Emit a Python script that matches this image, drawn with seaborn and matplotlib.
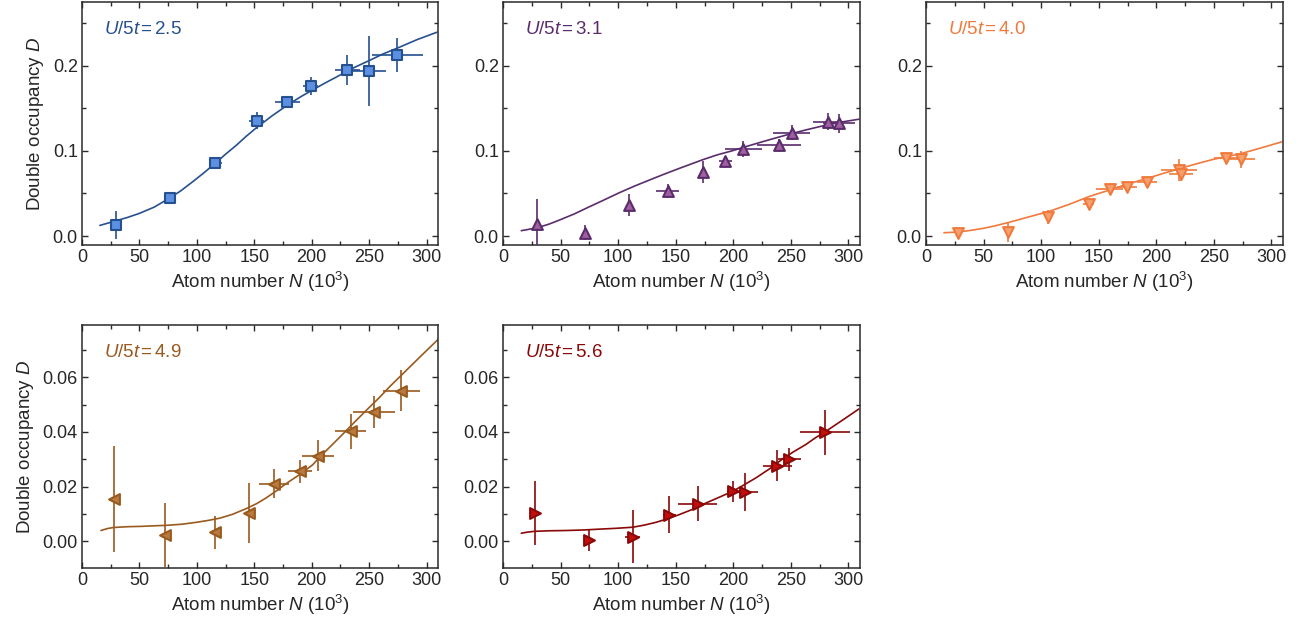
import numpy as np
import pandas as pd
import seaborn as sns
import matplotlib
matplotlib.use("Agg")
import matplotlib.pyplot as plt
from matplotlib.ticker import MultipleLocator, FormatStrFormatter

# ---------------- data ----------------
labels = ["2.5", "3.1", "4.0", "4.9", "5.6"]

# U/5t = 2.5
n1 = [30, 76.3, 116.1, 152.2, 178.8, 199, 231.1, 249.6, 274.7]
d1 = [0.013, 0.045, 0.0853, 0.1353, 0.157, 0.176, 0.1948, 0.1933, 0.212]
nerr1 = [0, 0, 5.5, 6.5, 11, 6.7, 11, 14.7, 22]
derr1 = [0.0167, 0.007, 0.004, 0.01, 0.0035, 0.011, 0.018, 0.041, 0.02]
fn1 = [15.6, 30, 40, 50, 63, 76.3, 86, 96.5, 106, 116, 125, 134, 143, 151.4, 165,
       178.8, 190, 199, 211, 223.6, 236, 249.6, 262, 275.6, 292, 309]
fd1 = [0.0125, 0.018, 0.022, 0.0266, 0.034, 0.0446, 0.053, 0.0638, 0.074, 0.0853,
       0.096, 0.106, 0.117, 0.1265, 0.1405, 0.1535, 0.163, 0.170, 0.179, 0.188,
       0.197, 0.2055, 0.2135, 0.221, 0.2305, 0.239]

# U/5t = 3.1
n2 = [29.8, 71.6, 109.2, 143, 173.9, 193, 208.5, 239.7, 250.7, 282, 291.7]
d2 = [0.014, 0.0039, 0.0363, 0.053, 0.0754, 0.088, 0.102, 0.1066, 0.121, 0.134, 0.132]
nerr2 = [0, 0, 0, 10, 0, 5.5, 16, 19, 16, 13, 13.6]
derr2 = [0.030, 0.0086, 0.0125, 0.008, 0.013, 0.006, 0.0094, 0.007, 0.0088, 0.010, 0.0107]
fn2 = [15.9, 22, 29.8, 40, 49.1, 62, 75.1, 88, 101, 114, 127, 140, 153, 164, 174,
       186, 199, 212, 225, 238, 251, 264, 277, 293, 309]
fd2 = [0.0063, 0.0078, 0.0098, 0.014, 0.0188, 0.026, 0.0344, 0.0425, 0.0508, 0.0585,
       0.0656, 0.0726, 0.0793, 0.0848, 0.0898, 0.0952, 0.100, 0.1053, 0.1105, 0.1155,
       0.1203, 0.1248, 0.129, 0.1335, 0.137]

# U/5t = 4.0
n3 = [28, 70.8, 106, 141.2, 159.4, 174.5, 192, 220, 221.5, 260.5, 273.8]
d3 = [0.0031, 0.005, 0.0227, 0.0371, 0.0547, 0.0578, 0.063, 0.0773, 0.0727, 0.091, 0.0898]
nerr3 = [0, 0, 0, 5, 11.5, 9, 9, 15.6, 10.4, 10.8, 12.3]
derr3 = [0.0066, 0.0117, 0.008, 0.006, 0.007, 0.005, 0.006, 0.0125, 0.0086, 0.006, 0.0098]
fn3 = [15.6, 22, 28, 38, 49.7, 60, 70.8, 88, 106, 124, 141.2, 150, 159.4, 175, 192,
       206, 221, 235, 249, 260, 272, 290, 309]
fd3 = [0.0039, 0.0043, 0.0047, 0.0065, 0.009, 0.012, 0.0156, 0.022, 0.0285, 0.037,
       0.0461, 0.050, 0.0539, 0.061, 0.0676, 0.0735, 0.0793, 0.0848, 0.0898, 0.093,
       0.0961, 0.103, 0.1105]

# U/5t = 4.9
n4 = [28.3, 72.2, 115.5, 145.3, 167.5, 189.8, 205.4, 234, 254.2, 278.2]
d4 = [0.0155, 0.0024, 0.0033, 0.0104, 0.0211, 0.0256, 0.0313, 0.0402, 0.0473, 0.0551]
nerr4 = [0, 0, 0, 0, 13, 10.5, 14, 13.3, 18, 16]
derr4 = [0.0195, 0.0117, 0.0061, 0.0109, 0.0053, 0.0041, 0.0057, 0.0065, 0.0057, 0.0075]
fn4 = [16.5, 22, 27.4, 40, 50.5, 62, 73.7, 87, 99.7, 110, 119.9, 131, 143, 152,
       160.3, 169, 177.6, 189, 200.8, 209, 218, 228, 238, 248, 258.5, 268, 278.7, 294, 310]
fd4 = [0.004, 0.0047, 0.0051, 0.0054, 0.0055, 0.0057, 0.0059, 0.0063, 0.007, 0.0077,
       0.0085, 0.0099, 0.012, 0.0138, 0.0159, 0.0184, 0.0211, 0.0243, 0.028, 0.0317,
       0.0354, 0.0396, 0.0439, 0.0481, 0.0524, 0.0566, 0.061, 0.0673, 0.0738]

# U/5t = 5.6
n5 = [27.4, 75.1, 112.7, 144.4, 169, 199.3, 210.3, 238.3, 248.4, 280]
d5 = [0.0104, 0.0006, 0.0018, 0.0098, 0.0137, 0.0183, 0.018, 0.0277, 0.0301, 0.0399]
nerr5 = [0, 0, 6.5, 5.8, 17, 5, 11.3, 12.7, 10, 21.7]
derr5 = [0.0116, 0.004, 0.0098, 0.0067, 0.0064, 0.0038, 0.0069, 0.0057, 0.0042, 0.0082]
fn5 = [15.9, 21, 27.4, 40, 54.9, 70, 83.8, 98, 112.7, 123, 132.9, 143, 153, 165, 176,
       188, 199.3, 209, 219.5, 231, 242.6, 252, 262.9, 271, 280.2, 294, 309]
fd5 = [0.003, 0.0034, 0.0037, 0.0039, 0.004, 0.0042, 0.0045, 0.0048, 0.0052, 0.006,
       0.007, 0.0083, 0.0098, 0.0118, 0.014, 0.0162, 0.0183, 0.0206, 0.0232, 0.0264,
       0.0301, 0.0327, 0.0354, 0.0378, 0.0402, 0.0441, 0.0484]

# ---------------- styling ----------------
sns.set_theme(style="ticks")
plt.rcParams['font.family'] = ['Liberation Sans', 'DejaVu Sans']
plt.rcParams['mathtext.fontset'] = 'custom'
plt.rcParams['mathtext.rm'] = 'Liberation Sans'
plt.rcParams['mathtext.it'] = 'Liberation Sans:italic'
plt.rcParams['mathtext.default'] = 'regular'

series = [
    (n1, d1, nerr1, derr1, fn1, fd1, "s", "#26508f", "#5b90e2"),
    (n2, d2, nerr2, derr2, fn2, fd2, "^", "#5a2c6c", "#a0609f"),
    (n3, d3, nerr3, derr3, fn3, fd3, "v", "#f07a3c", "#f6a070"),
    (n4, d4, nerr4, derr4, fn4, fd4, "<", "#9a5a1e", "#b87a40"),
    (n5, d5, nerr5, derr5, fn5, fd5, ">", "#8a0808", "#c40e0e"),
]

W, H = 1316, 624
fig = plt.figure(figsize=(W / 100, H / 100), dpi=100)

boxes = [
    (82, 2, 438, 245), (503, 2, 860, 245), (926, 2, 1283, 245),
    (82, 325, 438, 568), (503, 325, 860, 568),
]

spine_col = "#2a2a2a"
for i, (s, box) in enumerate(zip(series, boxes)):
    n, d, nerr, derr, fn, fd, mk, lc, fc = s
    x0, y0, x1, y1 = box
    ax = fig.add_axes([x0 / W, 1 - y1 / H, (x1 - x0) / W, (y1 - y0) / H])

    fit = pd.DataFrame({"N": fn, "D": fd})
    sns.lineplot(data=fit, x="N", y="D", ax=ax, color=lc, lw=1.2, zorder=2)
    ax.errorbar(n, d, xerr=nerr, yerr=derr, fmt="none", ecolor=lc,
                elinewidth=1.2, capsize=0, zorder=3)
    pts = pd.DataFrame({"N": n, "D": d})
    sns.scatterplot(data=pts, x="N", y="D", ax=ax, marker=mk, s=60,
                    color=fc, edgecolor=lc, linewidth=1.5, zorder=4)

    ax.set_xlim(0, 310)
    ax.xaxis.set_major_locator(MultipleLocator(50))
    ax.xaxis.set_minor_locator(MultipleLocator(25))
    if i < 3:
        ax.set_ylim(-0.0105, 0.2745)
        ax.yaxis.set_major_locator(MultipleLocator(0.1))
        ax.yaxis.set_minor_locator(MultipleLocator(0.05))
        ax.yaxis.set_major_formatter(FormatStrFormatter("%.1f"))
    else:
        ax.set_ylim(-0.0097, 0.0791)
        ax.yaxis.set_major_locator(MultipleLocator(0.02))
        ax.yaxis.set_minor_locator(MultipleLocator(0.01))
        ax.yaxis.set_major_formatter(FormatStrFormatter("%.2f"))

    ax.tick_params(which="both", direction="in", top=True, right=True,
                   labelsize=13, color=spine_col, width=1.0, pad=3)
    ax.tick_params(which="major", length=4.5)
    ax.tick_params(which="minor", length=3)
    for sp in ax.spines.values():
        sp.set_linewidth(1.1)
        sp.set_color(spine_col)

    ax.set_xlabel("Atom number $\\mathit{N}$ (10$^3$)", fontsize=13.5, labelpad=3)
    if i in (0, 3):
        ax.set_ylabel("Double occupancy $\\mathit{D}$", fontsize=13.5, labelpad=5)
    else:
        ax.set_ylabel("")

    ax.text(0.062, 0.885, "$\\mathit{U}$/5$\\mathit{t}\\,$=$\\,$" + labels[i],
            transform=ax.transAxes, color=lc, fontsize=13.5,
            ha="left", va="center")
    leg = ax.get_legend()
    if leg is not None:
        leg.remove()

fig.savefig("out.png", dpi=100)
